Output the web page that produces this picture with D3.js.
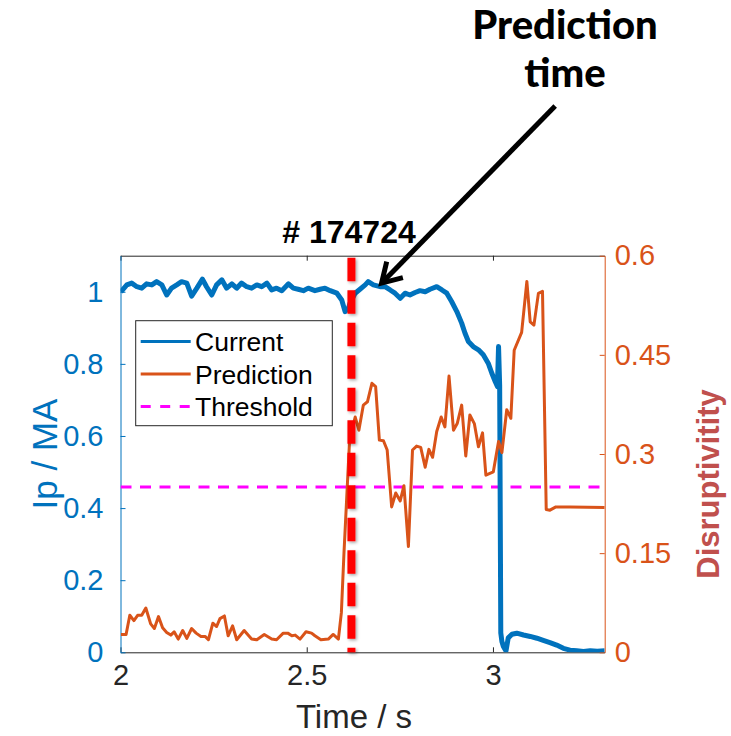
<!DOCTYPE html>
<html>
<head>
<meta charset="utf-8">
<script src="https://cdn.jsdelivr.net/npm/d3@7/dist/d3.min.js"></script>
<style>
  body { margin: 0; background: #fff; }
  text { font-family: "Liberation Sans", Arial, Helvetica, sans-serif; }
</style>
</head>
<body>
<svg id="chart" width="731" height="736"></svg>
<script>
// Plasma current Ip (MA) against time (s)
const ipTime = [2.001,2.017,2.030,2.044,2.057,2.070,2.084,2.097,2.111,2.124,2.137,2.151,2.164,2.178,2.191,2.205,2.220,2.231,2.245,2.258,2.272,2.285,2.299,2.312,2.325,2.339,2.352,2.366,2.379,2.393,2.406,2.419,2.433,2.451,2.464,2.477,2.491,2.504,2.522,2.536,2.549,2.563,2.581,2.594,2.603,2.607,2.612,2.616,2.630,2.643,2.657,2.665,2.679,2.697,2.710,2.724,2.737,2.751,2.764,2.777,2.791,2.804,2.818,2.831,2.849,2.863,2.876,2.889,2.903,2.916,2.925,2.934,2.947,2.961,2.974,2.988,2.997,3.006,3.012,3.015,3.018,3.021,3.024,3.028,3.035,3.041,3.051,3.064,3.082,3.100,3.118,3.135,3.153,3.171,3.189,3.207,3.225,3.243,3.261,3.280,3.300];
const ipValues = [1.000,1.019,1.024,1.014,1.010,1.022,1.019,1.028,1.019,0.991,1.010,1.019,1.028,1.024,0.988,1.010,1.035,1.014,0.991,1.019,1.033,1.010,1.022,1.010,1.024,1.014,1.010,1.019,1.014,1.024,1.005,1.010,1.003,1.022,1.010,1.007,1.003,1.010,1.003,1.007,1.010,1.003,0.996,0.977,0.945,0.950,0.954,0.968,0.996,1.007,1.019,1.028,1.019,1.014,1.014,1.005,0.996,0.982,0.996,0.991,0.998,1.003,1.000,1.007,1.014,1.005,0.996,0.973,0.945,0.913,0.885,0.862,0.848,0.839,0.825,0.800,0.774,0.751,0.737,0.848,0.740,0.054,0.030,0.016,0.004,0.040,0.050,0.053,0.048,0.044,0.039,0.033,0.027,0.020,0.011,0.006,0.004,0.002,0.004,0.003,0.004];

// Predicted disruptivity against time (s)
const predTime = [2.001,2.015,2.025,2.036,2.046,2.057,2.068,2.081,2.091,2.102,2.113,2.124,2.135,2.144,2.155,2.167,2.178,2.191,2.203,2.216,2.227,2.236,2.248,2.258,2.267,2.279,2.289,2.301,2.312,2.332,2.352,2.366,2.386,2.406,2.419,2.437,2.449,2.460,2.469,2.482,2.498,2.513,2.522,2.538,2.558,2.571,2.585,2.593,2.600,2.607,2.615,2.630,2.640,2.652,2.663,2.675,2.685,2.695,2.706,2.716,2.728,2.739,2.751,2.761,2.773,2.784,2.795,2.806,2.818,2.828,2.838,2.849,2.861,2.871,2.882,2.894,2.904,2.916,2.927,2.938,2.950,2.961,2.972,2.981,3.001,3.015,3.024,3.037,3.048,3.057,3.077,3.091,3.100,3.110,3.122,3.133,3.143,3.153,3.169,3.207,3.300];
const predValues = [0.027,0.027,0.056,0.048,0.056,0.056,0.067,0.043,0.036,0.054,0.037,0.030,0.026,0.031,0.020,0.033,0.021,0.036,0.029,0.024,0.024,0.019,0.044,0.039,0.051,0.055,0.025,0.040,0.019,0.033,0.020,0.019,0.027,0.020,0.019,0.029,0.029,0.025,0.026,0.020,0.031,0.029,0.025,0.019,0.020,0.027,0.020,0.060,0.150,0.230,0.320,0.356,0.336,0.374,0.379,0.407,0.402,0.321,0.320,0.306,0.220,0.241,0.229,0.252,0.160,0.306,0.312,0.310,0.280,0.307,0.295,0.334,0.356,0.341,0.418,0.336,0.346,0.374,0.297,0.359,0.346,0.311,0.332,0.268,0.273,0.319,0.302,0.367,0.354,0.457,0.484,0.561,0.500,0.495,0.543,0.546,0.216,0.215,0.220,0.220,0.219];

const thresholdValue = 0.25;
const predictionTime = 2.62;
const shotLabel = "# 174724";

const xTicks = [2, 2.5, 3];
const xTickLabels = ["2", "2.5", "3"];
const ipTicks = [0, 0.2, 0.4, 0.6, 0.8, 1];
const ipTickLabels = ["0", "0.2", "0.4", "0.6", "0.8", "1"];
const dTicks = [0, 0.15, 0.3, 0.45, 0.6];
const dTickLabels = ["0", "0.15", "0.3", "0.45", "0.6"];
const legendLabels = ["Current", "Prediction", "Threshold"];

// Annotation arrow, in data units of the time / Ip axes
const arrowTail = { t: 3.167, ip: 1.515 };
const arrowTip = { t: 2.701, ip: 1.024 };

const BLUE = "#0072BD", ORANGE = "#D95319", AXIS = "#262626";

const svg = d3.select("#chart");
const L = 120.5, R = 604.7, T = 255.7, B = 652.3;

const x = d3.scaleLinear().domain([2, 3.3]).range([L, R]);
const yIp = d3.scaleLinear().domain([0, 1.1]).range([B, T]);
const yD = d3.scaleLinear().domain([0, 0.6]).range([B, T]);

const defs = svg.append("defs");
defs.append("clipPath").attr("id", "plotClip")
  .append("rect").attr("x", L).attr("y", T).attr("width", R - L).attr("height", B - T);
const shadow = defs.append("filter").attr("id", "shade")
  .attr("filterUnits", "userSpaceOnUse")
  .attr("x", 0).attr("y", 0).attr("width", 731).attr("height", 736);
shadow.append("feDropShadow").attr("dx", 1.5).attr("dy", 1.5)
  .attr("stdDeviation", 1.5).attr("flood-color", "#000").attr("flood-opacity", 0.35);

// Axes
const fontTick = 29;
function styleAxis(g, color) {
  g.selectAll("path.domain").attr("stroke", color).attr("stroke-width", 1);
  g.selectAll(".tick line").attr("stroke", color).attr("stroke-width", 1);
  g.selectAll(".tick text").attr("fill", color)
    .style("font-size", fontTick + "px")
    .style("font-family", "'Liberation Sans', Arial, sans-serif");
}

const gBottom = svg.append("g").attr("transform", `translate(0,${B})`)
  .call(d3.axisBottom(x).tickValues(xTicks).tickSizeInner(-5).tickSizeOuter(0)
    .tickPadding(12).tickFormat((d, i) => xTickLabels[i]));
styleAxis(gBottom, AXIS);

const gTop = svg.append("g").attr("transform", `translate(0,${T})`)
  .call(d3.axisTop(x).tickValues(xTicks).tickSizeInner(-5).tickSizeOuter(0).tickFormat(""));
styleAxis(gTop, AXIS);

const gLeft = svg.append("g").attr("transform", `translate(${L},0)`)
  .call(d3.axisLeft(yIp).tickValues(ipTicks).tickSizeInner(-5).tickSizeOuter(0)
    .tickPadding(17).tickFormat((d, i) => ipTickLabels[i]));
styleAxis(gLeft, BLUE);

const gRight = svg.append("g").attr("transform", `translate(${R},0)`)
  .call(d3.axisRight(yD).tickValues(dTicks).tickSizeInner(-5).tickSizeOuter(0)
    .tickPadding(10).tickFormat((d, i) => dTickLabels[i]));
styleAxis(gRight, ORANGE);

// Axis titles
svg.append("text").attr("x", 354).attr("y", 728)
  .attr("text-anchor", "middle").attr("fill", AXIS)
  .style("font-size", "33px").text("Time / s");
svg.append("text").attr("transform", `translate(57,${(T + B) / 2}) rotate(-90)`)
  .attr("text-anchor", "middle").attr("fill", BLUE)
  .style("font-size", "35px").text("Ip / MA");
svg.append("text").attr("transform", `translate(719,${(T + B) / 2 + 30}) rotate(-90)`)
  .attr("text-anchor", "middle").attr("fill", "#C0504D")
  .style("font-size", "31px").style("font-weight", "bold").text("Disruptivitity");

// Data lines
const plot = svg.append("g").attr("clip-path", "url(#plotClip)");

plot.append("line")
  .attr("x1", L).attr("x2", R)
  .attr("y1", yD(thresholdValue)).attr("y2", yD(thresholdValue))
  .attr("stroke", "#FF00FF").attr("stroke-width", 3).attr("stroke-dasharray", "11 8.5");

const ipLine = d3.line().x((d, i) => x(ipTime[i])).y(d => yIp(d));
plot.append("path").datum(ipValues)
  .attr("d", ipLine).attr("fill", "none")
  .attr("stroke", BLUE).attr("stroke-width", 5).attr("stroke-linejoin", "round");

const predLine = d3.line().x((d, i) => x(predTime[i])).y(d => yD(d));
plot.append("path").datum(predValues)
  .attr("d", predLine).attr("fill", "none")
  .attr("stroke", ORANGE).attr("stroke-width", 3).attr("stroke-linejoin", "round");

// Prediction time marker
svg.append("line")
  .attr("x1", x(predictionTime)).attr("x2", x(predictionTime))
  .attr("y1", T + 2).attr("y2", B)
  .attr("stroke", "#FF0000").attr("stroke-width", 8)
  .attr("stroke-dasharray", "23.5 9").attr("filter", "url(#shade)");

// Legend
const lg = svg.append("g");
lg.append("rect").attr("x", 135.7).attr("y", 320.7).attr("width", 196.6).attr("height", 105)
  .attr("fill", "#fff").attr("stroke", AXIS).attr("stroke-width", 1);
const legendStyles = [
  { color: BLUE, width: 3, dash: null },
  { color: ORANGE, width: 3, dash: null },
  { color: "#FF00FF", width: 3, dash: "10 9.5" }
];
legendLabels.forEach((lab, i) => {
  const cy = 341.5 + i * 32.5;
  lg.append("line").attr("x1", 140.7).attr("x2", 190.7).attr("y1", cy).attr("y2", cy)
    .attr("stroke", legendStyles[i].color).attr("stroke-width", legendStyles[i].width)
    .attr("stroke-dasharray", legendStyles[i].dash);
  lg.append("text").attr("x", 195).attr("y", cy).attr("dy", "0.36em")
    .attr("fill", "#000").style("font-size", "26.5px").text(lab);
});

// Shot number
svg.append("text").attr("x", 349).attr("y", 243).attr("text-anchor", "middle")
  .attr("fill", "#000").style("font-size", "32px").style("font-weight", "bold")
  .text(shotLabel);

// Annotation
const ann = svg.append("g");
ann.append("text").attr("x", 565).attr("y", 39).attr("text-anchor", "middle")
  .style("font-family", "Lato, 'DejaVu Sans', sans-serif").style("font-weight", "900")
  .style("font-size", "40px").attr("fill", "#000").text("Prediction");
ann.append("text").attr("x", 565).attr("y", 87).attr("text-anchor", "middle")
  .style("font-family", "Lato, 'DejaVu Sans', sans-serif").style("font-weight", "900")
  .style("font-size", "40px").attr("fill", "#000").text("time");

const tx = x(arrowTail.t), ty = yIp(arrowTail.ip);
const hx = x(arrowTip.t), hy = yIp(arrowTip.ip);
const back = Math.atan2(ty - hy, tx - hx);
const barb = 22, spread = 31 * Math.PI / 180;
ann.append("line").attr("x1", tx).attr("y1", ty).attr("x2", hx + 2 * Math.cos(back)).attr("y2", hy + 2 * Math.sin(back))
  .attr("stroke", "#000").attr("stroke-width", 5);
ann.append("polyline")
  .attr("points", [
    [hx + barb * Math.cos(back - spread), hy + barb * Math.sin(back - spread)],
    [hx, hy],
    [hx + barb * Math.cos(back + spread), hy + barb * Math.sin(back + spread)]
  ].map(p => p.join(",")).join(" "))
  .attr("fill", "none").attr("stroke", "#000").attr("stroke-width", 5)
  .attr("stroke-linejoin", "miter");
</script>
</body>
</html>
